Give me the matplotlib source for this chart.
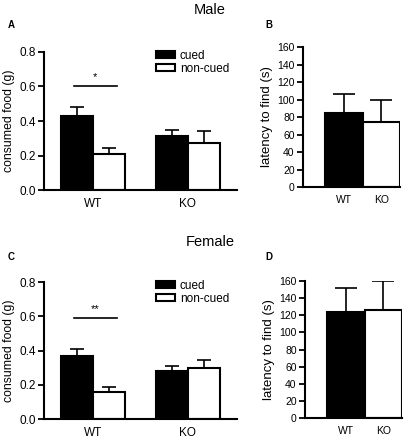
import matplotlib.pyplot as plt
import numpy as np

plt.rcParams['font.family'] = ['Liberation Sans', 'DejaVu Sans']

groups = ['WT', 'KO']

# food consumption (g), mean and sem
male_cued = [0.43, 0.315]
male_cued_sem = [0.052, 0.035]
male_noncued = [0.21, 0.275]
male_noncued_sem = [0.033, 0.065]
female_cued = [0.37, 0.28]
female_cued_sem = [0.036, 0.032]
female_noncued = [0.155, 0.297]
female_noncued_sem = [0.03, 0.046]
male_sig = 0.605
female_sig = 0.59

# latency to find (s)
male_latency = [85, 74]
male_latency_sem = [21, 25]
female_latency = [124, 126]
female_latency_sem = [28, 34]

W, H = 416, 440
fig = plt.figure(figsize=(W / 100, H / 100), dpi=100)


def ax_px(left, top, right, bottom):
    return fig.add_axes([left / W, 1 - bottom / H, (right - left) / W, (bottom - top) / H])


def style(ax):
    for s in ['top', 'right']:
        ax.spines[s].set_visible(False)
    for s in ['left', 'bottom']:
        ax.spines[s].set_linewidth(1.5)
    ax.tick_params(axis='y', width=1.3, length=4, direction='out', pad=2)
    ax.tick_params(axis='x', length=0, pad=6)


def food_panel(ax, cued, cued_sem, noncued, noncued_sem, star, sig_y):
    x = np.arange(len(groups))
    w = 0.34
    ax.bar(x - w / 2, cued, w, color='black', edgecolor='black', linewidth=1.5,
           label='cued', zorder=2)
    ax.bar(x + w / 2, noncued, w, color='white', edgecolor='black', linewidth=1.5,
           label='non-cued', zorder=2)
    ax.errorbar(x - w / 2, cued, yerr=[[0, 0], cued_sem], fmt='none', ecolor='black',
                elinewidth=1.2, capsize=5, capthick=1.2, zorder=1)
    ax.errorbar(x + w / 2, noncued, yerr=[[0, 0], noncued_sem], fmt='none', ecolor='black',
                elinewidth=1.2, capsize=5, capthick=1.2, zorder=1)
    ax.set_xlim(-0.52, 1.52)
    ax.set_ylim(0, 0.8)
    ax.set_yticks([0, 0.2, 0.4, 0.6, 0.8])
    ax.set_yticklabels(['0.0', '0.2', '0.4', '0.6', '0.8'], fontsize=8.5)
    ax.set_xticks(x)
    ax.set_xticklabels(groups, fontsize=8.5)
    ax.set_ylabel('consumed food (g)', fontsize=8.8, labelpad=3)
    style(ax)
    # significance bar
    ax.plot([-0.2, 0.25], [sig_y, sig_y], color='black', lw=1.2, clip_on=False)
    ax.text(0.02, sig_y + 0.02, star, ha='center', va='bottom', fontsize=8)
    ax.legend(loc='upper left', bbox_to_anchor=(0.55, 1.06), frameon=False,
              fontsize=8.5, handlelength=1.6, handleheight=0.55,
              handletextpad=0.4, labelspacing=0.1, borderpad=0)


def latency_panel(ax, vals, sem):
    x = np.arange(len(groups))
    ax.bar(x, vals, 1.0, color=['black', 'white'], edgecolor='black', linewidth=1.5,
           zorder=2)
    ax.errorbar(x, vals, yerr=[[0, 0], sem], fmt='none', ecolor='black',
                elinewidth=1.2, capsize=8, capthick=1.2, zorder=1)
    ax.set_xlim(-1.1, 1.5)
    ax.set_ylim(0, 160)
    ax.set_yticks(range(0, 161, 20))
    ax.tick_params(axis='y', labelsize=7.5)
    ax.set_xticks(x)
    ax.set_xticklabels(groups, fontsize=7.5)
    ax.set_ylabel('latency to find (s)', fontsize=9.5, labelpad=3)
    style(ax)


axA = ax_px(44, 52, 237, 190)
food_panel(axA, male_cued, male_cued_sem, male_noncued, male_noncued_sem, '*', male_sig)
axB = ax_px(303, 47, 400, 187)
latency_panel(axB, male_latency, male_latency_sem)
axC = ax_px(44, 282, 237, 419)
food_panel(axC, female_cued, female_cued_sem, female_noncued, female_noncued_sem, '**',
           female_sig)
axD = ax_px(305, 281, 402, 418)
latency_panel(axD, female_latency, female_latency_sem)

fig.text(210 / W, 1 - 10 / H, 'Male', ha='center', va='center', fontsize=10.5)
fig.text(210 / W, 1 - 242 / H, 'Female', ha='center', va='center', fontsize=10.5)
for lab, px, py in [('A', 8, 25), ('B', 265, 25), ('C', 8, 257), ('D', 265, 257)]:
    fig.text(px / W, 1 - py / H, lab, ha='left', va='center', fontsize=7, fontweight='bold')

fig.savefig('out.png', dpi=100)
